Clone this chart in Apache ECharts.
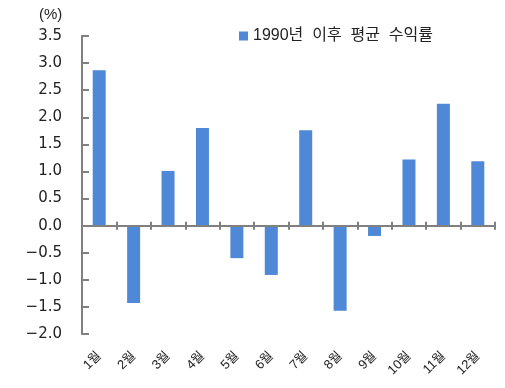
<!DOCTYPE html>
<html><head><meta charset="utf-8">
<script src="https://cdn.jsdelivr.net/npm/echarts@6/dist/echarts.min.js"></script>
<style>html,body{margin:0;padding:0;background:#fff}#c{width:505px;height:388px}</style>
</head><body><div id="c"></div>
<script>
const categories = ['1월','2월','3월','4월','5월','6월','7월','8월','9월','10월','11월','12월'];
const values = [2.87, -1.43, 1.01, 1.80, -0.60, -0.91, 1.76, -1.57, -0.19, 1.22, 2.25, 1.19];
const seriesName = '1990년  이후  평균  수익률';
const unitLabel = '(%)';
const yMin = -2, yMax = 3.5, yStep = 0.5;
const FONT = "'DejaVu Sans', 'Noto Sans CJK KR', sans-serif";
const FONT_KR = "'Liberation Sans', 'Noto Sans CJK KR', sans-serif";

// plot-area layout
const W = 505, H = 388, L = 82, R = 10, T = 36, B = 54;
const plotH = H - T - B;
const zeroY = T + plotH * (yMax / (yMax - yMin)); // pixel row of value 0
const axisColor = '#808080';

const chart = echarts.init(document.getElementById('c'));
chart.setOption({
  animation: false,
  title: { text: unitLabel, left: 34, top: 2, textStyle: { fontSize: 15, fontWeight: 'normal', color: '#222', fontFamily: FONT_KR } },
  legend: { show: true, left: 234, top: 23, itemWidth: 9, itemHeight: 9, itemGap: 4, icon: 'rect',
    textStyle: { fontSize: 16, color: '#222', fontFamily: FONT_KR } },
  grid: [
    { left: L, right: R, top: T, bottom: B, containLabel: false, outerBoundsMode: 'none' },
    { left: L, right: R, top: T, height: zeroY - T, containLabel: false, outerBoundsMode: 'none' },
    { left: L, right: R, top: zeroY, height: 10, containLabel: false, outerBoundsMode: 'none' }
  ],
  xAxis: [{
    gridIndex: 0, type: 'category', data: categories, position: 'bottom',
    axisLine: { show: false, onZero: false },
    axisTick: { show: false },
    axisLabel: { rotate: 45, margin: 20, fontSize: 13, color: '#222', fontFamily: FONT_KR, interval: 0 }
  }, {
    gridIndex: 1, type: 'category', data: categories, position: 'bottom', z: 5,
    axisLine: { show: true, onZero: false, lineStyle: { color: axisColor, width: 2 } },
    axisTick: { show: true, inside: false, length: 4, lineStyle: { color: axisColor, width: 2 } },
    axisLabel: { show: false }
  }, {
    gridIndex: 2, type: 'category', data: categories, position: 'top', z: 5,
    axisLine: { show: false, onZero: false },
    axisTick: { show: true, inside: false, length: 4, lineStyle: { color: axisColor, width: 2 } },
    axisLabel: { show: false }
  }],
  yAxis: [{
    gridIndex: 0, type: 'value', min: yMin, max: yMax, interval: yStep, z: 5,
    axisLine: { show: true, onZero: false, lineStyle: { color: axisColor, width: 2 } },
    axisTick: { show: true, inside: true, length: 7, lineStyle: { color: axisColor, width: 2 } },
    splitLine: { show: false },
    axisLabel: { margin: 20, fontSize: 15, color: '#222', fontFamily: FONT,
      formatter: v => (v < 0 ? '\u2212' : '') + Math.abs(v).toFixed(1) }
  }, {
    gridIndex: 1, type: 'value', show: false, splitLine: { show: false }
  }, {
    gridIndex: 2, type: 'value', show: false, splitLine: { show: false }
  }],
  series: [{
    name: seriesName, type: 'bar', data: values, barWidth: 13,
    xAxisIndex: 0, yAxisIndex: 0,
    itemStyle: { color: '#4f88d6' }
  }]
});
</script></body></html>
